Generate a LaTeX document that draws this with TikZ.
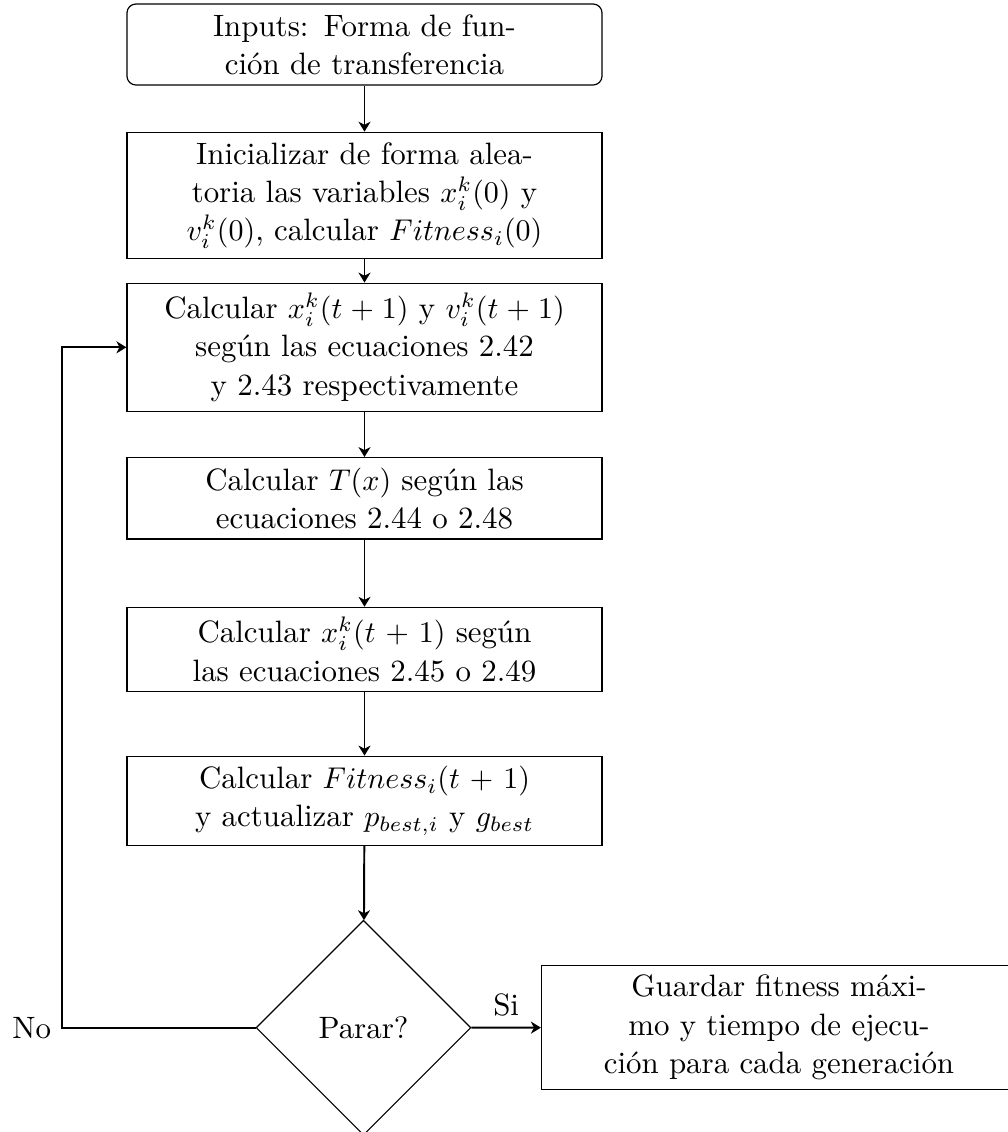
\documentclass[tikz,border=0pt]{standalone}
\usetikzlibrary{shapes.geometric,arrows.meta}

\tikzset{
  every node/.style={font=\fontsize{10.3pt}{12.75pt}\selectfont},
  procbox/.style={draw, line width=0.4pt, rectangle, align=center,
    text width=151.7pt, inner sep=3.33pt},
  startbox/.style={procbox, rounded corners=3pt},
  decision/.style={draw, line width=0.4pt, diamond, aspect=1,
    minimum size=71.6pt, inner sep=0pt},
  flow/.style={line width=0.65pt, -{Stealth[length=3.3pt,width=4pt,inset=1pt]}},
  edgelabel/.style={inner sep=3.33pt}
}

\begin{document}
\begin{tikzpicture}[x=0.33333pt, y=-0.33333pt]
  \useasboundingbox (0,0) rectangle (1008,1132);

  % main column of process steps
  \node[startbox, minimum height=27pt] (inputs) at (364.5,44.5)
    {Inputs: Forma de fun-\\ción de transferencia};
  \node[procbox] (init) at (364.5,195.3)
    {Inicializar de forma alea-\\toria las variables $x_i^k(0)$ y\\$v_i^k(0)$, calcular $Fitness_i(0)$};
  \node[procbox] (update) at (364.5,347.3)
    {Calcular $x_i^k(t+1)$ y $v_i^k(t+1)$\\según las ecuaciones 2.42\\y 2.43 respectivamente};
  \node[procbox] (transfer) at (364.5,498.3)
    {Calcular $T(x)$ según las\\ecuaciones 2.44 o 2.48};
  \node[procbox] (position) at (364.5,649.5)
    {Calcular $x_i^k(t+1)$ según\\las ecuaciones 2.45 o 2.49};
  \node[procbox] (fitness) at (364.5,800.8)
    {Calcular $Fitness_i(t+1)$\\y actualizar $p_{best,i}$ y $g_{best}$};

  % stopping test and output
  \node[decision] (stop) at (363.5,1027.7) {Parar?};
  \node[procbox] (save) at (779,1027.5)
    {Guardar fitness máxi-\\mo y tiempo de ejecu-\\ción para cada generación};

  \coordinate (turn) at (62,1027.7);

  % connectors
  \draw[flow] (inputs) -- (init);
  \draw[flow] (init) -- (update);
  \draw[flow] (update) -- (transfer);
  \draw[flow] (transfer) -- (position);
  \draw[flow] (position) -- (fitness);
  \draw[flow] (fitness) -- (stop);
  \draw[flow] (stop) -- node[above, edgelabel] {Si} (save);
  \draw[flow] (stop.west) -- (turn) node[left, edgelabel] {No} |- (update.west);
\end{tikzpicture}
\end{document}
